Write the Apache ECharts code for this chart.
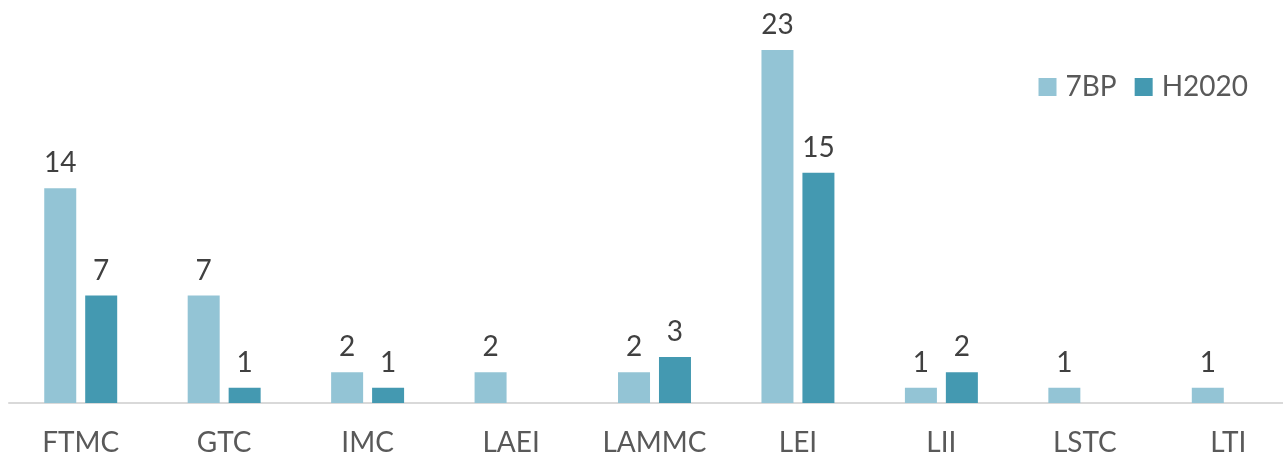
<!DOCTYPE html>
<html>
<head>
<meta charset="utf-8">
<script src="https://cdn.jsdelivr.net/npm/echarts@6/dist/echarts.min.js"></script>
<style>
  html, body { margin: 0; padding: 0; background: #fff; }
  #chart { width: 1283px; height: 459px; }
</style>
</head>
<body>
<div id="chart"></div>
<script>
// categories and values
var categories = ["FTMC", "GTC", "IMC", "LAEI", "LAMMC", "LEI", "LII", "LSTC", "LTI"];
var bp7 = [14, 7, 2, 2, 2, 23, 1, 1, 1];
var h2020 = [7, 1, 1, null, 3, 15, 2, null, null];

var chart = echarts.init(document.getElementById("chart"));

var labelStyle = {
  show: true,
  position: "top",
  distance: 11,
  color: "#404040",
  fontSize: 28,
  fontFamily: "Lato"
};

chart.setOption({
  animation: false,
  textStyle: { fontFamily: "Lato" },
  grid: {
    left: 9,
    width: 1291,
    top: 50,
    bottom: 56,
    outerBoundsMode: "none",
    containLabel: false
  },
  legend: {
    right: 30,
    top: 68,
    itemWidth: 18,
    itemHeight: 18,
    itemGap: 18,
    icon: "rect",
    textStyle: { color: "#595959", fontSize: 28, fontFamily: "Lato", padding: [0, 0, 0, 4] },
    data: ["7BP", "H2020"]
  },
  xAxis: {
    type: "category",
    data: categories,
    axisTick: { show: false },
    axisLine: { lineStyle: { color: "#d9d9d9", width: 2 } },
    axisLabel: {
      color: "#595959",
      fontSize: 28,
      fontFamily: "Lato",
      margin: 26,
      interval: 0
    }
  },
  yAxis: {
    type: "value",
    min: 0,
    max: 23,
    show: false,
    splitLine: { show: false }
  },
  series: [
    {
      name: "7BP",
      type: "bar",
      data: bp7,
      barWidth: 32,
      barGap: "28%",
      itemStyle: { color: "#93c4d5" },
      label: labelStyle
    },
    {
      name: "H2020",
      type: "bar",
      data: h2020,
      barWidth: 32,
      itemStyle: { color: "#4499b1" },
      label: labelStyle
    }
  ]
});
</script>
</body>
</html>
